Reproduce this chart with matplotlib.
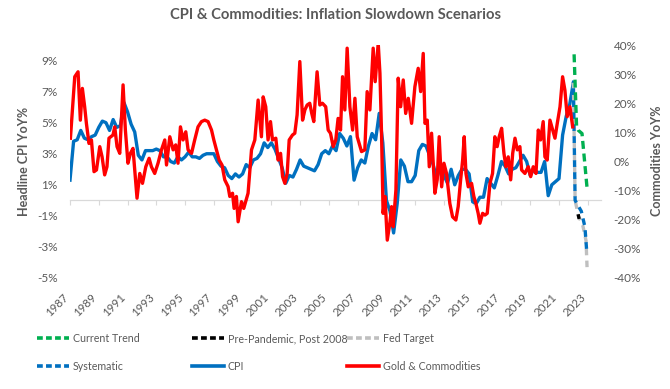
import matplotlib
matplotlib.use("Agg")
import matplotlib.pyplot as plt
import numpy as np
from matplotlib.lines import Line2D

plt.rcParams['font.family'] = ['Lato', 'DejaVu Sans']

TXT = '#595959'

# ---------------- data ----------------
# Headline CPI YoY % (quarterly: Jan, Apr, Jul, Oct), 1987 .. Jan 2022
cpi_values = [
    1.3, 3.8, 3.9, 4.5,   4.0, 3.9, 4.1, 4.2,   4.7, 5.1, 5.0, 4.5,
    5.2, 4.7, 4.8, 6.3,   5.7, 4.9, 4.4, 2.9,   2.6, 3.2, 3.2, 3.2,
    3.3, 3.2, 2.8, 2.8,   2.5, 2.4, 2.8, 2.6,   2.8, 3.1, 2.8, 2.8,
    2.7, 2.9, 3.0, 3.0,   3.0, 2.5, 2.2, 2.1,   1.6, 1.4, 1.7, 1.5,
    1.7, 2.3, 2.1, 2.6,   2.7, 3.0, 3.7, 3.4,   3.7, 3.3, 2.7, 2.1,
    1.1, 1.6, 1.5, 2.0,   2.6, 2.2, 2.1, 2.0,   1.9, 2.3, 3.0, 3.2,
    3.0, 3.5, 3.2, 4.3,   4.0, 3.5, 4.1, 1.3,   2.1, 2.6, 2.4, 3.5,
    4.3, 3.9, 5.6, 3.7,   0.0, -0.7, -2.1, -0.2, 2.6, 2.2, 1.2, 1.2,
    1.6, 3.2, 3.6, 3.5,   2.9, 2.3, 1.4, 2.2,   1.6, 1.1, 2.0, 1.0,
    1.6, 2.0, 2.0, 1.7,   -0.1, -0.2, 0.2, 0.2, 1.4, 1.1, 0.8, 1.6,
    2.5, 2.2, 1.7, 2.0,   2.1, 2.5, 2.9, 2.5,   1.6, 2.0, 1.8, 1.8,
    2.5, 0.3, 1.0, 1.2,   1.4, 4.2, 5.4, 6.2,   7.6,
]
cpi_start_year = 1987

# Gold & Commodities YoY % (right axis)
gold_dates = [
    1987.03, 1987.33, 1987.56, 1987.72, 1987.86, 1988.02, 1988.14, 1988.32, 1988.49, 1988.67,
    1988.84, 1989.07, 1989.23, 1989.41, 1989.57, 1989.71, 1989.99, 1990.11, 1990.27, 1990.46,
    1990.69, 1990.85, 1991.03, 1991.20, 1991.38, 1991.66, 1991.85, 1992.04, 1992.27, 1992.50,
    1992.66, 1992.89, 1993.12, 1993.36, 1993.59, 1993.71, 1993.94, 1994.17, 1994.35, 1994.51,
    1994.68, 1994.86, 1995.05, 1995.21, 1995.45, 1995.67, 1995.90, 1996.14, 1996.37, 1996.60,
    1996.84, 1997.00, 1997.18, 1997.37, 1997.57, 1997.76, 1997.99, 1998.11, 1998.30, 1998.41,
    1998.57, 1998.69, 1998.92, 1999.08, 1999.38, 1999.62, 1999.85, 2000.08, 2000.31, 2000.43,
    2000.61, 2000.77, 2000.94, 2001.08, 2001.31, 2001.47, 2001.64, 2001.78, 2001.94, 2002.10,
    2002.24, 2002.47, 2002.63, 2002.79, 2002.98, 2003.17, 2003.33, 2003.49, 2003.67, 2003.81,
    2003.95, 2004.18, 2004.37, 2004.55, 2004.78, 2004.95, 2005.11, 2005.30, 2005.48, 2005.64,
    2005.81, 2005.95, 2006.11, 2006.27, 2006.46, 2006.65, 2006.81, 2006.97, 2007.27, 2007.50,
    2007.66, 2007.85, 2008.08, 2008.22, 2008.43, 2008.55, 2008.66, 2008.77, 2008.90, 2009.06,
    2009.25, 2009.36, 2009.47, 2009.66, 2009.82, 2009.99, 2010.17, 2010.34, 2010.52, 2010.75,
    2010.98, 2011.21, 2011.38, 2011.56, 2011.68, 2011.84, 2011.98, 2012.14, 2012.37, 2012.53,
    2012.67, 2012.84, 2013.00, 2013.18, 2013.41, 2013.60, 2013.83, 2013.99, 2014.16, 2014.30,
    2014.41, 2014.53, 2014.69, 2014.92, 2015.08, 2015.22, 2015.38, 2015.50, 2015.69, 2015.85,
    2016.01, 2016.20, 2016.38, 2016.54, 2016.70, 2016.84, 2017.01, 2017.17, 2017.31, 2017.47,
    2017.64, 2017.78, 2017.94, 2018.10, 2018.28, 2018.40, 2018.63, 2018.86, 2019.03, 2019.21,
    2019.40, 2019.56, 2019.72, 2019.90, 2020.02, 2020.18, 2020.37, 2020.56, 2020.72, 2020.88,
    2021.07, 2021.25, 2021.41, 2021.57, 2021.76, 2021.95,
]
gold_values = [
    8.0, 29.1, 30.8, 14.2, 25.1, 18.8, 13.1, 6.2, 7.4, -3.5,
    -2.9, 5.1, 1.6, -4.6, -1.8, 8.0, 9.1, 11.9, 5.1, 2.8,
    26.3, 10.8, -0.6, 2.8, 4.5, -12.6, -4.1, -7.5, -1.8, 1.1,
    -1.8, -4.1, -0.6, 4.0, 7.4, -1.2, 8.5, 4.0, 5.7, -0.6,
    11.9, 7.4, 10.2, 4.0, 2.8, 7.4, 11.9, 13.7, 14.2, 13.7,
    10.8, 7.4, 4.0, 0.5, -1.2, -6.3, -8.6, -12.0, -10.9, -16.1,
    -12.0, -20.7, -13.8, -16.1, -10.9, 4.0, 7.4, 21.1, 8.5, 22.2,
    18.8, 7.4, 13.7, 7.4, 8.0, 0.5, 2.8, -5.2, -7.5, -4.1,
    7.4, 9.1, 9.7, 16.0, 34.3, 14.2, 17.7, 19.4, 20.0, 16.5,
    13.7, 30.8, 19.4, 20.0, 18.8, 10.8, 9.7, 5.1, 7.4, 14.8,
    10.8, 29.1, 17.7, 38.9, 18.8, 10.8, 21.7, 8.5, 3.4, 4.0,
    24.0, 17.7, 38.9, 27.4, 40.6, 30.3, 9.7, -17.8, -12.0, -27.0,
    -20.7, -15.5, -22.4, -9.8, 28.6, 18.8, 28.0, 16.5, 21.7, 13.1,
    25.7, 32.0, 24.0, 37.1, 13.1, 14.2, -1.8, 9.7, -10.9, -6.3,
    8.5, -8.7, -0.6, -4.1, -14.4, -19.0, -20.1, -15.5, -6.3, 0.5,
    8.5, -4.1, -8.7, -7.5, -12.0, -14.4, -17.8, -21.2, -17.8, -18.4,
    -17.8, -7.5, -4.1, 8.5, 5.1, 8.5, 11.4, 2.8, -1.8, 1.6,
    -6.3, 2.8, 8.0, 4.0, 5.1, -2.9, -4.1, -1.8, -5.2, -1.8,
    -4.1, 10.8, 7.4, 13.7, 1.6, 0.5, 14.2, 10.8, 8.0, 13.1,
    18.8, 29.1, 24.5, 15.4, 18.8, 11.9,
]

# Scenario projections (left axis, CPI YoY %)
trend_dates = [2022.05, 2022.22, 2022.35, 2022.60, 2022.95]
trend_values = [9.4, 4.8, 4.5, 4.3, 0.8]
system_dates = [2022.0, 2022.12, 2022.30, 2022.55, 2022.80, 2022.92]
system_values = [7.6, 0.0, -0.3, -0.7, -1.7, -3.2]
fed_dates = [2022.0, 2022.12, 2022.35, 2022.65, 2022.88, 2022.95]
fed_values = [7.6, 0.0, -1.0, -1.6, -2.6, -4.3]
prepan_dates = [2022.33, 2022.40]
prepan_values = [-0.9, -1.2]

year_ticks = list(range(1987, 2024, 2))
left_ticks = [-5, -3, -1, 1, 3, 5, 7, 9]
right_ticks = [-40, -30, -20, -10, 0, 10, 20, 30, 40]

# ---------------- figure ----------------
fig = plt.figure(figsize=(6.7, 3.89), dpi=100)
L, R, B, T = 70 / 670, 601 / 670, 1 - 278 / 389, 1 - 45 / 389
ax = fig.add_axes([L, B, R - L, T - B])
ax2 = ax.twinx()

BLUE = '#0070C0'
RED = '#FF0000'
GREEN = '#00B050'
GREY = '#BFBFBF'

cpi_dates = cpi_start_year + np.arange(len(cpi_values)) / 4.0
ax.plot(cpi_dates, cpi_values, color=BLUE, lw=2.4, solid_joinstyle='round', zorder=3)
ax.plot(fed_dates, fed_values, color=GREY, lw=2.4, linestyle=(0, (2.0, 1.6)), zorder=4)
ax.plot(system_dates, system_values, color=BLUE, lw=2.4, linestyle=(1.8, (2.0, 1.6)), zorder=5)
ax.plot(prepan_dates, prepan_values, color='black', lw=2.4, linestyle=(0, (2.0, 1.6)), zorder=6)
ax.plot(trend_dates, trend_values, color=GREEN, lw=2.4, linestyle=(0, (2.4, 1.4)), zorder=7)

ax2.plot(gold_dates, gold_values, color=RED, lw=2.4, solid_joinstyle='round')

ax.set_xlim(1987.0, 2023.92)
ax.set_ylim(-5, 10)
ax2.set_ylim(-40, 40)

for a in (ax, ax2):
    for s in a.spines.values():
        s.set_visible(False)
    a.patch.set_visible(False)

ax.set_yticks(left_ticks)
ax.set_yticklabels([f'{v}%' for v in left_ticks])
ax2.set_yticks(right_ticks)
ax2.set_yticklabels([f'{v}%' for v in right_ticks])
ax.tick_params(axis='y', length=0, pad=9, labelsize=8.5, labelcolor=TXT)
ax2.tick_params(axis='y', length=0, pad=9, labelsize=8.5, labelcolor=TXT)

ax.set_xticks(year_ticks)
ax.set_xticklabels([str(y) for y in year_ticks], rotation=45, ha='right', va='top')
ax.tick_params(axis='x', length=0, pad=10, labelsize=8.3, labelcolor=TXT)

# horizontal category axis crossing at CPI 0%
sec = ax.secondary_xaxis(1 / 3)
sec.set_xticks(year_ticks)
sec.tick_params(axis='x', direction='out', length=3.5, width=0.8, color='#D9D9D9', labelbottom=False, labeltop=False)
sec.spines['bottom'].set_color('#D9D9D9')
sec.spines['bottom'].set_linewidth(0.9)
sec.set_xticklabels([])

# titles
fig.text(0.5, 1 - 15 / 389, 'CPI & Commodities: Inflation Slowdown Scenarios',
         ha='center', va='center', fontsize=10.6, fontweight='bold', color=TXT)
fig.text(24 / 670, 1 - 161 / 389, 'Headline CPI YoY%', rotation=90,
         ha='center', va='center', fontsize=9, fontweight='bold', color=TXT)
fig.text(657 / 670, 1 - 161 / 389, 'Commodities YoY%', rotation=90,
         ha='center', va='center', fontsize=9, fontweight='bold', color=TXT)

# legend: three columns placed like the reference
def h(color, dashed=True):
    if dashed:
        return Line2D([], [], color=color, lw=2.6, dashes=(1.6, 0.9))
    return Line2D([], [], color=color, lw=2.6)

cols = [
    (37, [(h(GREEN), 'Current Trend'), (h(BLUE), 'Systematic')]),
    (192, [(h('black'), 'Pre-Pandemic, Post 2008'), (h(BLUE, False), 'CPI')]),
    (347, [(h(GREY), 'Fed Target'), (h(RED, False), 'Gold & Commodities')]),
]
for xpx, entries in cols:
    leg = fig.legend([e[0] for e in entries], [e[1] for e in entries],
                     loc='upper left', bbox_to_anchor=(xpx / 670, 1 - 333 / 389),
                     frameon=False, fontsize=7.7, handlelength=3.0, handletextpad=0.35,
                     labelspacing=1.55, borderpad=0, borderaxespad=0, labelcolor=TXT)

fig.savefig('out.png', dpi=100)
